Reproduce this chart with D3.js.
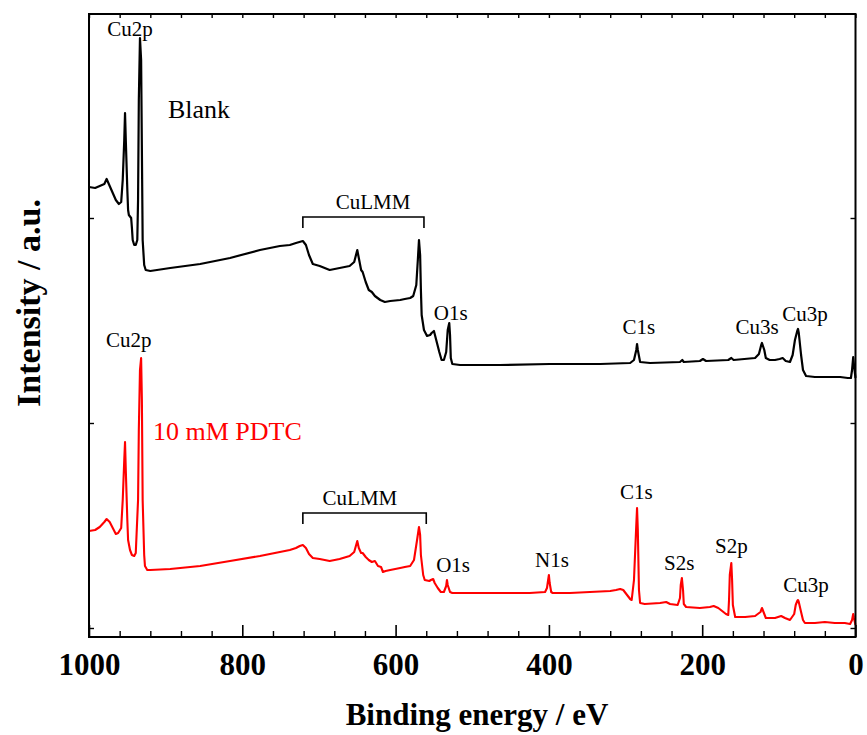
<!DOCTYPE html>
<html>
<head>
<meta charset="utf-8">
<script src="https://cdn.jsdelivr.net/npm/d3@7"></script>
<style>
  html, body { margin: 0; padding: 0; background: #fff; }
  svg { display: block; }
  text { font-family: "Liberation Serif", "Times New Roman", serif; }
</style>
</head>
<body>
<svg id="chart" width="867" height="735"></svg>
<script>
// XPS survey spectra: binding energy (eV) vs intensity (a.u., stacked)
const energyBlank = [1000, 992, 986, 980, 977, 973, 969, 965, 961, 958, 956, 954, 953, 952, 950, 949, 948, 945, 944, 943, 941, 939, 937, 936, 935, 933.5, 932, 931, 930, 928, 926, 920, 894, 855, 816, 777, 751, 738, 730, 721, 717, 713, 708, 699, 686, 673, 660, 654, 650, 648, 645, 643, 639, 635, 631, 627, 620, 614, 607, 594, 588, 581, 577, 573, 571, 569.5, 568, 567, 566, 563, 559, 555, 553, 550, 547, 543, 540, 537, 534, 532, 530, 529, 528, 526, 516, 464, 399, 333, 294, 289, 286, 285, 284, 281, 268, 229, 226, 224, 203, 199, 195, 166, 162, 159, 131, 126, 123, 122, 119, 117, 112, 105, 99, 95, 91, 85.5, 82, 79, 76, 75, 74, 71, 68.5, 64.5, 53, 33, 20, 10, 6, 4.5, 3, 2, 0];
const countsBlank = [450, 449, 451, 453, 458, 451, 444, 437, 433, 435, 457, 497, 524, 497, 447, 427, 422, 419, 409, 397, 392, 392, 397, 437, 537, 599, 577, 487, 397, 372, 367, 366, 369, 373, 379, 387, 391, 392, 394, 396, 392, 382, 373, 371, 367, 369, 371, 375, 387, 379, 367, 365, 355, 347, 345, 341, 337, 335, 336, 337, 338, 339, 341, 352, 377, 397, 382, 347, 322, 307, 301, 302, 304, 306, 297, 285, 277, 277, 285, 307, 314, 302, 279, 273, 272, 272, 273, 273, 274, 277, 287, 293, 287, 275, 274, 275, 277, 275, 276, 278, 276, 277, 279, 277, 279, 283, 292, 294, 287, 279, 277, 277, 278, 279, 276, 275, 282, 297, 306, 308, 304, 282, 267, 261, 260, 260, 260, 259, 259, 267, 280, 272, 259];

const energyPdtc = [1000, 992, 986, 980, 977, 973, 969, 965, 962, 958, 956, 954, 953, 952, 950, 949, 946.5, 944, 941, 939, 936, 935, 933.5, 932, 931, 930, 928, 927, 924, 920, 894, 855, 816, 777, 751, 738, 730, 725, 721, 717, 713, 708, 699, 686, 673, 660, 654, 650, 648, 645, 643, 639, 635, 631, 627, 623, 619, 616.5, 613, 607, 594, 588, 581, 576, 572, 569.5, 568, 567, 564, 562, 556, 554, 551, 549, 545, 541, 537, 534, 533, 532, 529, 526, 503, 464, 425, 405, 402.5, 401, 400, 399, 397, 395, 372.5, 346.5, 320, 312.5, 307, 303, 298, 294, 292, 289, 286, 285, 284, 282.5, 281, 275, 255, 247, 242, 232, 229, 228, 226.5, 225, 224, 221, 203, 190, 185, 179, 174, 169, 166, 165, 164, 162, 161, 160, 157, 144, 131, 124, 122, 119, 117, 105, 97, 92, 85.5, 80, 78, 76, 75, 74, 71, 68.5, 66, 53, 40, 27, 14, 7, 4.5, 3, 2, 0];
const countsPdtc = [106, 107, 110, 115, 118, 115, 109, 103, 104, 109, 137, 177, 195, 167, 117, 97, 87, 82, 81, 84, 137, 207, 267, 279, 237, 137, 82, 71, 67, 67, 68, 71, 76, 81, 85, 87, 89, 91, 92, 89, 83, 79, 78, 76, 78, 81, 85, 96, 89, 84, 84, 80, 77, 75, 76, 71, 70, 65, 66, 67, 69, 70, 71, 77, 97, 110, 102, 82, 62, 57, 56, 57, 58, 54, 49, 45, 45, 51, 57, 52, 45, 44, 44, 44, 44, 45, 49, 57, 62, 54, 45, 44, 44, 45, 46, 47, 48, 47, 42, 38, 37, 57, 112, 129, 107, 47, 34, 33, 34, 35, 33, 32, 39, 52, 59, 47, 33, 30, 29, 30, 31, 29, 26, 23, 22, 37, 62, 74, 57, 32, 20, 20, 21, 25, 29, 23, 19, 19, 21, 19, 17, 23, 32, 36, 37, 35, 25, 17, 14, 14, 15, 14, 14, 13, 17, 23, 19, 12];

// Axis ticks
const majorTicks = [1000, 800, 600, 400, 200, 0];
const minorTicks = d3.range(0, 1001, 40).filter(v => v % 200 !== 0);
const intensityTicks = [9, 214, 419];

// Peak assignments: [label, energy, intensity]
const blankLabels = [
  ["Cu2p", 946.5, 601], ["CuLMM", 629.5, 428], ["O1s", 528, 317],
  ["C1s", 282.5, 303], ["Cu3s", 128.5, 303], ["Cu3p", 66, 316]
];
const pdtcLabels = [
  ["Cu2p", 948, 290], ["CuLMM", 646.5, 132], ["O1s", 525, 65],
  ["N1s", 396, 70], ["C1s", 286, 138], ["S2s", 230, 67],
  ["S2p", 162, 84], ["Cu3p", 64.5, 45]
];
// Auger region brackets: [fromEnergy, toEnergy, intensity]
const brackets = [[721, 563, 420], [721, 560, 124]];
// Sample names: [name, energy, intensity, colour]
const sampleNames = [["Blank", 897, 519, "#000"], ["10 mM PDTC", 916.5, 197, "#ff0000"]];

const svg = d3.select("#chart");
const W = 867, H = 735;
const margin = { left: 89, right: 11.5, top: 14, bottom: 98 };
const innerW = W - margin.left - margin.right;
const innerH = H - margin.top - margin.bottom;

const x = d3.scaleLinear().domain([1000, 0]).range([margin.left, margin.left + innerW]);
const y = d3.scaleLinear().domain([0, 623]).range([margin.top + innerH, margin.top]);

const line = d3.line().x(d => x(d[0])).y(d => y(d[1]));

const plot = svg.append("g");

plot.append("path")
  .datum(d3.zip(energyBlank, countsBlank))
  .attr("d", line)
  .attr("fill", "none").attr("stroke", "#000").attr("stroke-width", 2.2)
  .attr("stroke-linejoin", "round");

plot.append("path")
  .datum(d3.zip(energyPdtc, countsPdtc))
  .attr("d", line)
  .attr("fill", "none").attr("stroke", "#ff0000").attr("stroke-width", 2.1)
  .attr("stroke-linejoin", "round");

// Peak labels
plot.selectAll("text.peak")
  .data(blankLabels.concat(pdtcLabels))
  .join("text")
  .attr("class", "peak")
  .attr("x", d => x(d[1])).attr("y", d => y(d[2]))
  .attr("text-anchor", "middle")
  .attr("font-size", 21)
  .attr("fill", "#000")
  .text(d => d[0]);

// CuLMM brackets
brackets.forEach(b => {
  const x0 = x(b[0]), x1 = x(b[1]), yy = y(b[2]), yEnd = y(b[2] - 11);
  plot.append("path")
    .attr("d", `M${x0},${yEnd}V${yy}H${x1}V${yEnd}`)
    .attr("fill", "none").attr("stroke", "#000").attr("stroke-width", 1.6);
});

// Sample names
plot.selectAll("text.sample")
  .data(sampleNames)
  .join("text")
  .attr("class", "sample")
  .attr("x", d => x(d[1])).attr("y", d => y(d[2]))
  .attr("font-size", 26)
  .attr("fill", d => d[3])
  .text(d => d[0]);

// Axes
const yBottom = margin.top + innerH, yTop = margin.top;
const xLeft = margin.left, xRight = margin.left + innerW;

const xMajor = svg.append("g").attr("transform", `translate(0,${yBottom})`)
  .call(d3.axisBottom(x).tickValues(majorTicks).tickSize(-12).tickFormat(d3.format("d")));
xMajor.select(".domain").remove();
xMajor.selectAll("line").attr("stroke-width", 1.6);
xMajor.selectAll("text")
  .attr("y", 38).attr("dy", null)
  .attr("font-family", "'Liberation Serif', 'Times New Roman', serif")
  .attr("font-size", 31).attr("font-weight", "bold").attr("fill", "#000");

const xMinor = svg.append("g").attr("transform", `translate(0,${yBottom})`)
  .call(d3.axisBottom(x).tickValues(minorTicks).tickSize(-6).tickFormat(""));
xMinor.select(".domain").remove();
xMinor.selectAll("line").attr("stroke-width", 1.4);

const xTopAxis = svg.append("g").attr("transform", `translate(0,${yTop})`)
  .call(d3.axisTop(x).tickValues(majorTicks.concat(minorTicks)).tickSize(-4).tickFormat(""));
xTopAxis.select(".domain").remove();
xTopAxis.selectAll("line").attr("stroke-width", 1.4);

const yLeftAxis = svg.append("g").attr("transform", `translate(${xLeft},0)`)
  .call(d3.axisLeft(y).tickValues(intensityTicks).tickSize(-5).tickFormat(""));
yLeftAxis.select(".domain").remove();
yLeftAxis.selectAll("line").attr("stroke-width", 1.4);

const yRightAxis = svg.append("g").attr("transform", `translate(${xRight},0)`)
  .call(d3.axisRight(y).tickValues(intensityTicks).tickSize(-5).tickFormat(""));
yRightAxis.select(".domain").remove();
yRightAxis.selectAll("line").attr("stroke-width", 1.4);

// Frame
svg.append("rect")
  .attr("x", xLeft).attr("y", yTop).attr("width", innerW).attr("height", innerH)
  .attr("fill", "none").attr("stroke", "#000").attr("stroke-width", 2);

// Axis titles
svg.append("text")
  .attr("x", 477).attr("y", 725)
  .attr("text-anchor", "middle")
  .attr("font-size", 31).attr("font-weight", "bold")
  .text("Binding energy / eV");

svg.append("text")
  .attr("transform", "translate(40,303) rotate(-90)")
  .attr("text-anchor", "middle")
  .attr("font-size", 34).attr("font-weight", "bold")
  .text("Intensity / a.u.");
</script>
</body>
</html>
